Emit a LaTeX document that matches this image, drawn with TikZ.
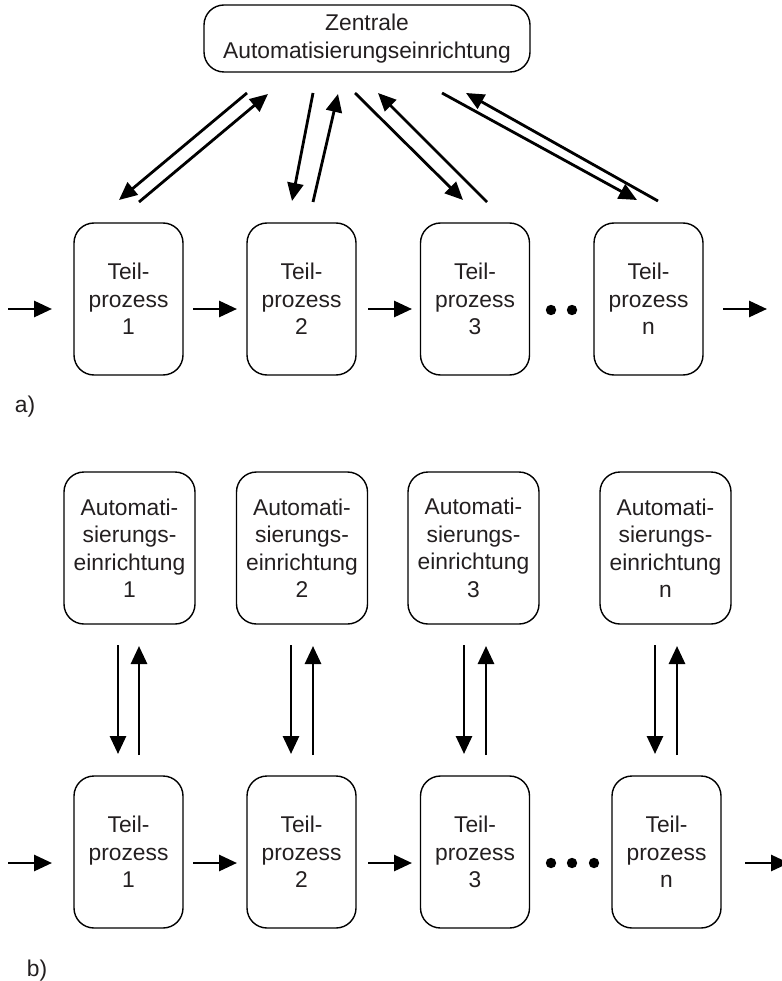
\documentclass[tikz,border=0pt]{standalone}
\usepackage{fontspec}
\setmainfont{Liberation Sans}
\usetikzlibrary{arrows.meta}
\definecolor{ink}{HTML}{231F20}
\begin{document}
\begin{tikzpicture}[x=1pt,y=-1pt,
  every node/.style={font=\fontsize{22.8}{27.5}\selectfont, text=ink},
  box/.style={draw=black, line width=1.4pt, rounded corners=20pt, align=center,
    inner sep=0pt, minimum width=109pt, minimum height=152pt},
  autobox/.style={box, minimum width=131pt},
  flow/.style={line width=2.8pt, -{Triangle[length=18pt,width=16pt]}, shorten >=0pt},
  dot/.style={fill=black, draw=none}
]
\useasboundingbox (0,0) rectangle (781,981);

% ---------- a) central automation ----------
\node[box, minimum width=326pt, minimum height=67pt] (zentral) at (367,38.5)
  {Zentrale\\Automatisierungseinrichtung};

\foreach \i/\x in {1/128.5,2/301.5,3/475}
  \node[box] (ta\i) at (\x,299) {Teil-\\prozess\\\i};
\node[box] (tan) at (648.5,299) {Teil-\\prozess\\n};

% material flow a)
\coordinate (ina) at (8,309);   \coordinate (ina1) at (52,309);
\coordinate (a12s) at (193,309); \coordinate (a12e) at (237,309);
\coordinate (a23s) at (368,309); \coordinate (a23e) at (412,309);
\coordinate (outas) at (723,309); \coordinate (outae) at (767,309);
\draw[flow] (ina) -- (ina1);
\draw[flow] (a12s) -- (a12e);
\draw[flow] (a23s) -- (a23e);
\draw[flow] (outas) -- (outae);
\fill[dot] (551,310) circle (5.2pt) (572,310) circle (5.2pt);

% signal lines central <-> subprocesses
\coordinate (d1s) at (247,93);  \coordinate (d1e) at (119,200);
\coordinate (u1s) at (139,202); \coordinate (u1e) at (268,94);
\coordinate (d2s) at (313,93);  \coordinate (d2e) at (292,201);
\coordinate (u2s) at (313,202); \coordinate (u2e) at (338,94);
\coordinate (d3s) at (355,93);  \coordinate (d3e) at (463,200);
\coordinate (u3s) at (487,202); \coordinate (u3e) at (378,93);
\coordinate (d4s) at (442,93);  \coordinate (d4e) at (637,200);
\coordinate (u4s) at (658,201); \coordinate (u4e) at (466,93);
\foreach \k in {1,2,3,4}{
  \draw[flow] (d\k s) -- (d\k e);
  \draw[flow] (u\k s) -- (u\k e);
}

\node (la) at (25,407) {a)};

% ---------- b) distributed automation ----------
\foreach \i/\x in {1/129.5,2/302,3/473.5}
  \node[autobox] (ab\i) at (\x,548) {Automati-\\sierungs-\\einrichtung\\\i};
\node[autobox] (abn) at (665.5,548) {Automati-\\sierungs-\\einrichtung\\n};

\foreach \i/\x in {1/128.5,2/301.5,3/475}
  \node[box] (tb\i) at (\x,852) {Teil-\\prozess\\\i};
\node[box] (tbn) at (666.5,852) {Teil-\\prozess\\n};

% signal lines per unit
\foreach \k/\xd/\xu in {1/118/139,2/291/313,3/464/486,4/655/677}{
  \coordinate (bd\k s) at (\xd,645); \coordinate (bd\k e) at (\xd,754);
  \coordinate (bu\k s) at (\xu,755); \coordinate (bu\k e) at (\xu,646);
  \draw[flow] (bd\k s) -- (bd\k e);
  \draw[flow] (bu\k s) -- (bu\k e);
}

% material flow b)
\coordinate (inb) at (8,863);   \coordinate (inb1) at (52,863);
\coordinate (b12s) at (193,863); \coordinate (b12e) at (237,863);
\coordinate (b23s) at (368,863); \coordinate (b23e) at (412,863);
\coordinate (outbs) at (745,863); \coordinate (outbe) at (789,863);
\draw[flow] (inb) -- (inb1);
\draw[flow] (b12s) -- (b12e);
\draw[flow] (b23s) -- (b23e);
\draw[flow] (outbs) -- (outbe);
\fill[dot] (551,863) circle (5.2pt) (572,863) circle (5.2pt) (594,863) circle (5.2pt);

\node (lb) at (37,971) {b)};
\end{tikzpicture}
\end{document}
